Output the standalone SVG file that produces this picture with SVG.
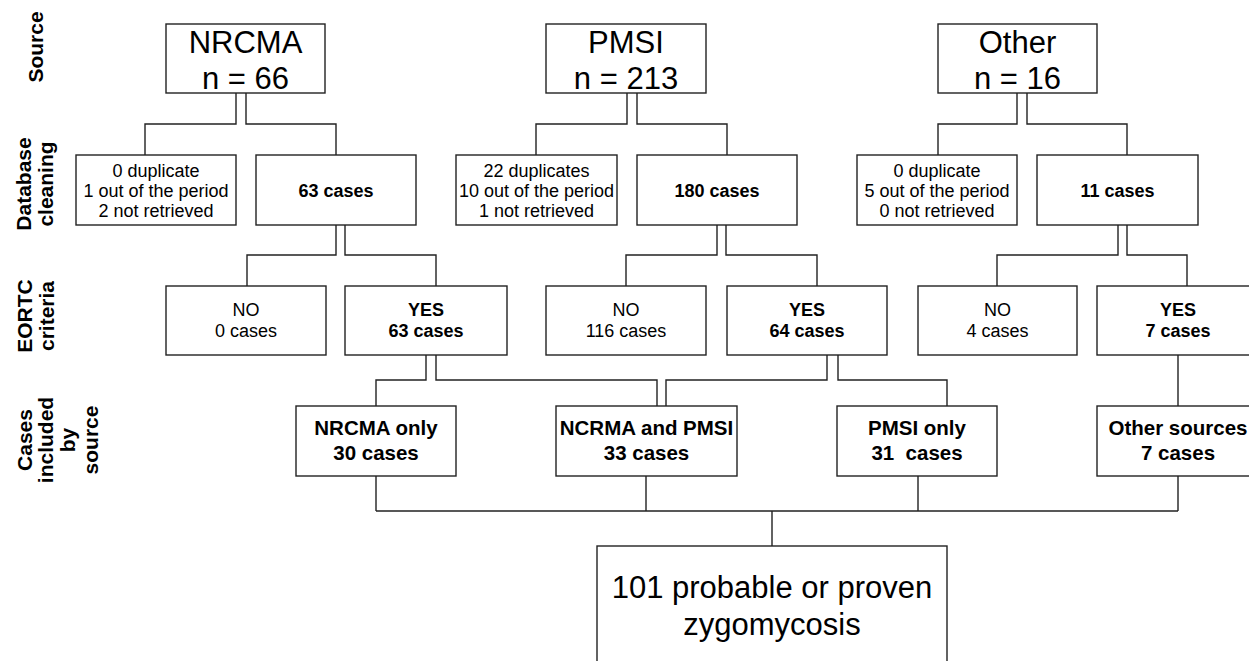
<svg xmlns="http://www.w3.org/2000/svg" width="1249" height="661" viewBox="0 0 1249 661">
<style>
.box{fill:#fff;stroke:#222;stroke-width:1.4}
.con{fill:none;stroke:#222;stroke-width:1.4}
text{font-family:"Liberation Sans",Arial,sans-serif;fill:#000;text-anchor:middle}
.big{font-size:31px}
.sm{font-size:18px}
.b{font-size:18px;font-weight:bold}
.bi{font-size:20.5px;font-weight:bold}
.lab{font-size:21px;font-weight:bold}
</style>
<rect width="1249" height="661" fill="#fff"/>
<g id="labels">
<text class="lab" transform="translate(43,47) rotate(-90)">Source</text>
<text class="lab" transform="translate(31,184) rotate(-90)"><tspan x="0" y="0">Database</tspan><tspan x="0" y="22">cleaning</tspan></text>
<text class="lab" transform="translate(32,316) rotate(-90)"><tspan x="0" y="0">EORTC</tspan><tspan x="0" y="22">criteria</tspan></text>
<text class="lab" transform="translate(32,440) rotate(-90)"><tspan x="0" y="0">Cases</tspan><tspan x="0" y="21">included</tspan><tspan x="0" y="43">by</tspan><tspan x="0" y="66">source</tspan></text>
</g>
<g id="connectors">
<path class="con" d="M236,93V124H145V155M246,93V124H336V155"/>
<path class="con" d="M627,93V124H536V155M637,93V124H727V155"/>
<path class="con" d="M1017,93V124H938V155M1027,93V124H1127V155"/>
<path class="con" d="M336,225V255H247V286M345,225V255H436V286"/>
<path class="con" d="M717,225V255H626V286M726,225V255H817V286"/>
<path class="con" d="M1118,225V255H997V286M1127,225V255H1187V286"/>
<path class="con" d="M426,355V380H376V406M436,355V380H657V406"/>
<path class="con" d="M827,355V380H666V406M838,355V380H947V406"/>
<path class="con" d="M1178,355V406"/>
<path class="con" d="M376,476V511M646,476V511M918,476V511M1178,476V511M376,511H1178M772,511V546"/>
</g>
<g id="src-nrcma"><rect class="box" x="166" y="24" width="159" height="69"/><text class="big" x="245.5" y="53">NRCMA</text><text class="big" x="245.5" y="89">n = 66</text></g>
<g id="src-pmsi"><rect class="box" x="546" y="24" width="160" height="69"/><text class="big" x="626" y="53">PMSI</text><text class="big" x="626" y="89">n = 213</text></g>
<g id="src-other"><rect class="box" x="938" y="24" width="159" height="69"/><text class="big" x="1017.5" y="53">Other</text><text class="big" x="1017.5" y="89">n = 16</text></g>

<g id="clean-nrcma-ex"><rect class="box" x="76" y="155" width="160" height="70"/><text class="sm" x="156" y="177">0 duplicate</text><text class="sm" x="156" y="197">1 out of the period</text><text class="sm" x="156" y="217">2 not retrieved</text></g>
<g id="clean-nrcma"><rect class="box" x="256" y="155" width="160" height="70"/><text class="b" x="336" y="197">63 cases</text></g>
<g id="clean-pmsi-ex"><rect class="box" x="456" y="155" width="161" height="70"/><text class="sm" x="536.5" y="177">22 duplicates</text><text class="sm" x="536.5" y="197">10 out of the period</text><text class="sm" x="536.5" y="217">1 not retrieved</text></g>
<g id="clean-pmsi"><rect class="box" x="637" y="155" width="160" height="70"/><text class="b" x="717" y="197">180 cases</text></g>
<g id="clean-other-ex"><rect class="box" x="857" y="155" width="160" height="70"/><text class="sm" x="937" y="177">0 duplicate</text><text class="sm" x="937" y="197">5 out of the period</text><text class="sm" x="937" y="217">0 not retrieved</text></g>
<g id="clean-other"><rect class="box" x="1037" y="155" width="161" height="70"/><text class="b" x="1117.5" y="197">11 cases</text></g>

<g id="eortc-nrcma-no"><rect class="box" x="166" y="286" width="160" height="69"/><text class="sm" x="246" y="316">NO</text><text class="sm" x="246" y="337">0 cases</text></g>
<g id="eortc-nrcma-yes"><rect class="box" x="345" y="286" width="162" height="69"/><text class="b" x="426" y="316">YES</text><text class="b" x="426" y="337">63 cases</text></g>
<g id="eortc-pmsi-no"><rect class="box" x="546" y="286" width="160" height="69"/><text class="sm" x="626" y="316">NO</text><text class="sm" x="626" y="337">116 cases</text></g>
<g id="eortc-pmsi-yes"><rect class="box" x="727" y="286" width="160" height="69"/><text class="b" x="807" y="316">YES</text><text class="b" x="807" y="337">64 cases</text></g>
<g id="eortc-other-no"><rect class="box" x="918" y="286" width="159" height="69"/><text class="sm" x="997.5" y="316">NO</text><text class="sm" x="997.5" y="337">4 cases</text></g>
<g id="eortc-other-yes"><rect class="box" x="1097" y="286" width="162" height="69"/><text class="b" x="1178" y="316">YES</text><text class="b" x="1178" y="337">7 cases</text></g>

<g id="inc-nrcma"><rect class="box" x="296" y="406" width="160" height="70"/><text class="bi" x="376" y="435">NRCMA only</text><text class="bi" x="376" y="460">30 cases</text></g>
<g id="inc-both"><rect class="box" x="556" y="406" width="181" height="70"/><text class="bi" x="646.5" y="435">NCRMA and PMSI</text><text class="bi" x="646.5" y="460">33 cases</text></g>
<g id="inc-pmsi"><rect class="box" x="837" y="406" width="160" height="70"/><text class="bi" x="917" y="435">PMSI only</text><text class="bi" x="917" y="460" xml:space="preserve">31  cases</text></g>
<g id="inc-other"><rect class="box" x="1097" y="406" width="162" height="70"/><text class="bi" x="1178" y="435">Other sources</text><text class="bi" x="1178" y="460">7 cases</text></g>

<g id="final"><rect class="box" x="597" y="546" width="350" height="130"/><text class="big" x="772" y="598">101 probable or proven</text><text class="big" x="772" y="635">zygomycosis</text></g>
</svg>
